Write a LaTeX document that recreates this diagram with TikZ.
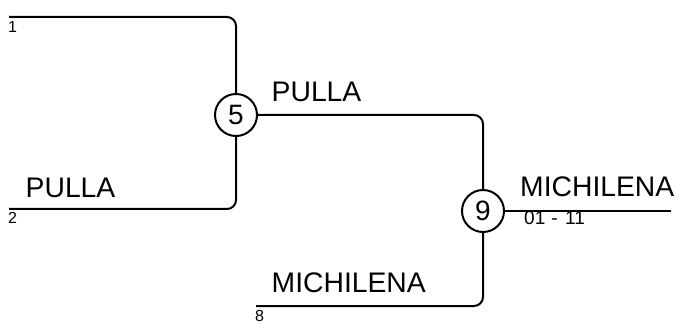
\documentclass[tikz,border=0pt]{standalone}
\usepackage{fontspec}
\setmainfont{Liberation Sans}
\begin{document}
\begin{tikzpicture}[x=1pt,y=-1pt,
  wire/.style={line width=2pt,rounded corners=9pt},
  junction/.style={circle,draw,line width=2pt,minimum size=42pt,inner sep=0pt,font=\fontsize{28}{30}\selectfont},
  biglabel/.style={anchor=base west,inner sep=0pt,font=\fontsize{28.3}{30}\selectfont},
  smalllabel/.style={anchor=base west,inner sep=0pt,font=\fontsize{16}{18}\selectfont},
  codelabel/.style={anchor=base west,inner sep=0pt,font=\fontsize{19}{20}\selectfont}]
\useasboundingbox (0,0) rectangle (681,334);
\node[junction] (n5) at (236,115) {5};
\node[junction] (n9) at (483,211) {9};
\coordinate (s1) at (9,17);
\coordinate (s2) at (9,209);
\coordinate (s8) at (256,306);
\coordinate (out) at (671,211);
\draw[wire] (s1) -| (n5);
\draw[wire] (s2) -| (n5);
\draw[wire] (n5) -| (n9);
\draw[wire] (s8) -| (n9);
\draw[wire] (n9) -- (out);
\node[smalllabel] (l1) at (8,33) {1};
\node[smalllabel] (l2) at (8,224) {2};
\node[smalllabel] (l8) at (255,322) {8};
\node[codelabel] (l011) at (524,225) {01\kern6pt-\kern7.5pt11};
\node[biglabel] (p1) at (25.5,198) {PULLA};
\node[biglabel] (p2) at (271.5,102) {PULLA};
\node[biglabel] (m1) at (271.5,293) {MICHILENA};
\node[biglabel] (m2) at (520,197) {MICHILENA};
\end{tikzpicture}
\end{document}
